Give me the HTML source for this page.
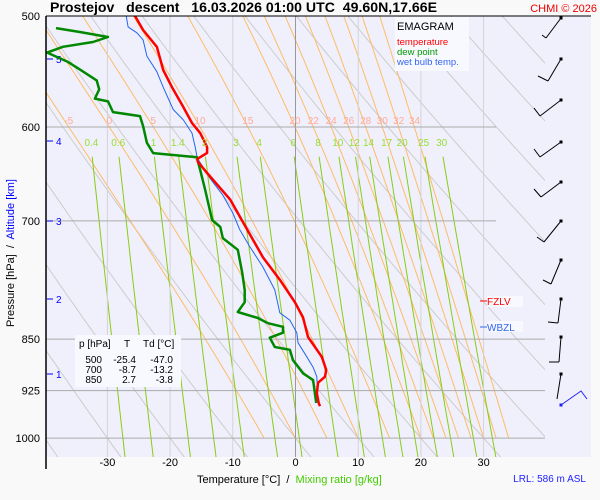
<!DOCTYPE html>
<html><head><meta charset="utf-8"><style>
html,body{margin:0;padding:0;background:#f9f9f9;}
svg{display:block;font-family:"Liberation Sans",sans-serif;}
</style></head><body>
<svg id="chart" width="600" height="500" viewBox="0 0 600 500" xmlns="http://www.w3.org/2000/svg">
<rect x="0" y="0" width="600" height="500" fill="#f9f9f9"/>
<rect x="46" y="16" width="545" height="441" fill="#f0f0fc"/>
<defs><clipPath id="clip"><rect x="46" y="16" width="499" height="441"/></clipPath></defs>
<g id="bg" clip-path="url(#clip)"></g>
<g id="grid"></g>
<g id="series"></g>
<g id="barbs"></g>
<g id="labels"></g>
<text x="50" y="12" font-size="13.5" font-weight="bold" xml:space="preserve" textLength="387" lengthAdjust="spacingAndGlyphs">Prostejov   descent   16.03.2026 01:00 UTC  49.60N,17.66E</text>
<text x="597" y="12" font-size="11" fill="#e00" text-anchor="end">CHMI © 2026</text>
<line x1="46" y1="16" x2="591" y2="16" stroke="#000" stroke-width="1"/>
<line x1="46" y1="16" x2="46" y2="469" stroke="#000" stroke-width="1.5"/>
<rect x="395" y="17" width="74" height="54" fill="#f8f8ff"/>
<text x="397" y="30" font-size="11">EMAGRAM</text>
<text x="397" y="45" font-size="9.5" fill="#f00">temperature</text>
<text x="397" y="55" font-size="9.5" fill="#090">dew point</text>
<text x="397" y="65" font-size="9.5" fill="#36e">wet bulb temp.</text>
<rect x="75" y="335" width="106" height="52" fill="#f8f8ff"/>
<g font-size="10">
<text x="79" y="347">p [hPa]</text><text x="127" y="347" text-anchor="middle">T</text><text x="143" y="347">Td [°C]</text>
<text x="102" y="363" text-anchor="end">500</text><text x="136" y="363" text-anchor="end">-25.4</text><text x="173" y="363" text-anchor="end">-47.0</text>
<text x="102" y="373" text-anchor="end">700</text><text x="136" y="373" text-anchor="end">-8.7</text><text x="173" y="373" text-anchor="end">-13.2</text>
<text x="102" y="383" text-anchor="end">850</text><text x="136" y="383" text-anchor="end">2.7</text><text x="173" y="383" text-anchor="end">-3.8</text>
</g>
<text transform="translate(14,253) rotate(-90)" font-size="11" text-anchor="middle" xml:space="preserve">Pressure [hPa]  /  <tspan fill="#00f">Altitude [km]</tspan></text>
<text x="197" y="483" font-size="11" xml:space="preserve">Temperature [°C]  /  <tspan fill="#4c0">Mixing ratio [g/kg]</tspan></text>
<text x="586" y="482" font-size="10" fill="#22f" text-anchor="end">LRL: 586 m ASL</text>
<rect x="487" y="296" width="36" height="11" fill="#f8f8ff"/>
<line x1="480" y1="301" x2="487" y2="301" stroke="#f00"/>
<text x="487" y="305" font-size="10" fill="#f00">FZLV</text>
<rect x="487" y="321" width="36" height="11" fill="#f8f8ff"/>
<line x1="480" y1="327" x2="487" y2="327" stroke="#36e"/>
<text x="487" y="331" font-size="10" fill="#36e">WBZL</text>
</svg>
<script>
const tempP=[500,511.6,526,546.4,562,580.6,596,606,620,626,632,635,647,676,710,743,771,800,820,847,875,894,904,913,929,944,949];
const tempT=[-25.6,-24.3,-22.1,-21.1,-19.7,-17.9,-16.5,-15.2,-14.1,-14.1,-15.6,-15.6,-14.1,-10.4,-7.7,-5.2,-2.5,-0.1,1.2,2.0,4.2,4.9,4.7,3.6,3.4,3.7,3.9];
const dewP=[510,513.3,517.5,521.8,525.9,531,538.9,545.8,555.8,564,572.6,575.3,585.5,589.3,599.1,615.7,626.2,630.5,631.7,643.9,665.4,699,707,720,734,762,784,800,813,821,828,833,841,848,861,865,880,899,909,929,944];
const dewT=[-38.2,-34.4,-29.9,-32.3,-37.1,-39.6,-36.4,-34.4,-31.7,-31.3,-32.0,-29.9,-29.1,-24.8,-24.3,-23.7,-22.7,-15.7,-15.7,-15.2,-14.4,-13.3,-12.0,-11.6,-9.2,-8.5,-8.1,-8.1,-9.2,-6.0,-4.4,-2.0,-2.0,-4.1,-3.3,-0.9,-0.4,1.2,2.8,3.1,3.3];
const wbP=[500,509,514,520,534,548,562,583,593,606,620,631,632,653,671,691,710,730,755,784,814,824,841,855,875,890,904,944];
const wbT=[-27.0,-26.7,-25.3,-24.3,-23.7,-22.1,-21.1,-19.5,-17.9,-16.5,-16.0,-15.7,-15.6,-13.6,-11.6,-10.0,-8.9,-7.3,-5.2,-3.3,-2.5,-0.9,0.2,0.4,1.8,2.8,3.4,3.6];
const tempTicks=[-30,-20,-10,0,10,20,30];
const pressTicks=[500,600,700,850,925,1000];
const altKm=[5,4,3,2,1];
const altY=[59,141,221,299,374];
const mixRatios=[0.4,0.6,1,1.4,2,3,4,6,8,10,12,14,17,20,25,30];
const thetaW=[-5,0,5,10,15,20,22,24,26,28,30,32,34];
const thetaDry=[-60,-50,-40,-30,-20,-10,0,10,20,30,40,50,60,70,80,90,100,110,120,130,140,150];
const barbTop=[18,59,100,142,182,221,260,299,337,374];
const barbEnd=[[546,38],[548,81],[540,116],[540,157],[541,197],[544,242],[551,284],[558,323],[559,362],[557,399]];
const barbFeather=[[542,35],[538,76],[534,108],[534,149],[534,189],[537,237],[543,280],[548,322],[549,362],[557,399]];

const NS='http://www.w3.org/2000/svg';
const X=t=>295.5+t*6.27;
const Y=p=>16+609*Math.log(p/500);
function mk(tag,attrs,parent){const e=document.createElementNS(NS,tag);for(const k in attrs)e.setAttribute(k,attrs[k]);parent.appendChild(e);return e;}
const bg=document.getElementById('bg'),grid=document.getElementById('grid'),series=document.getElementById('series'),labels=document.getElementById('labels'),barbs=document.getElementById('barbs');
function poly(pts){return pts.map(q=>X(q[1]).toFixed(1)+','+Y(q[0]).toFixed(1)).join(' ');}

thetaDry.forEach(th=>{const pts=[];for(let p=500;p<=1050;p+=10){pts.push([p,(th+273.15)*Math.pow(p/1000,0.2857)-273.15]);}
 const l=mk('polyline',{points:poly(pts),fill:'none',stroke:'#ccc','stroke-width':1},bg);
 
 });
function es(T){return 6.112*Math.exp(17.67*T/(T+243.5));}
thetaW.forEach(tw=>{let T=tw+273.15,p=1000;const pts=[[1000,tw]];
 while(p>500){const dp=-2;const rs=0.622*es(T-273.15)/(p-es(T-273.15));const Lv=2.5e6,Rd=287,cp=1004;
  const dTdp=(Rd*T+Lv*rs)/(p*(cp+Lv*Lv*rs*0.622/(Rd*T*T)));T+=dTdp*dp;p+=dp;pts.push([p,T-273.15]);}
 const l=mk('polyline',{points:poly(pts),fill:'none',stroke:'#fb6','stroke-width':1},bg);
 
 
 let q=pts.find(z=>z[0]<=600)||pts[pts.length-1];
 const t=mk('text',{x:X(q[1]).toFixed(1),y:124,'font-size':10,fill:'#fa9','text-anchor':'middle'},labels);t.textContent=tw;
 
 });
function tw(w,p){const e=w*p/(622+w);const a=Math.log(e/6.112);return 243.5*a/(17.67-a);}
mixRatios.forEach(w=>{const pts=[];for(let p=630;p<=1060;p+=10)pts.push([p,tw(w,p)]);
 const l=mk('polyline',{points:poly(pts),fill:'none',stroke:'#8c1','stroke-width':1},bg);
 
 
 const t=mk('text',{x:X(tw(w,622)).toFixed(1),y:146,'font-size':10,fill:'#9d3','text-anchor':'middle'},labels);t.textContent=w;
 
 });
tempTicks.forEach(t=>{const l=mk('line',{x1:X(t),x2:X(t),y1:16,y2:457,stroke:t===0?'#999':'#d4d4d4','stroke-width':1},grid);
 
 
 const tx=mk('text',{x:X(t),y:466,'font-size':11,'text-anchor':'middle'},grid);tx.textContent=t;
 
 });
pressTicks.forEach(p=>{if(p>500){const l=mk('line',{x1:46,x2:(p<800?496:545),y1:Y(p),y2:Y(p),stroke:'#aaa','stroke-width':1},grid);
 
 }
 const tx=mk('text',{x:40,y:Y(p)+4,'font-size':11,'text-anchor':'end'},grid);tx.textContent=p;
 
 });
altKm.forEach((k,i)=>{const l=mk('line',{x1:47,x2:53,y1:altY[i],y2:altY[i],stroke:'#00f'},grid);
 
 
 const tx=mk('text',{x:56,y:altY[i]+4,'font-size':10,fill:'#00f'},grid);tx.textContent=k;
 
 });
function line(P,T,color,w,name){const pts=P.map((p,i)=>[p,T[i]]);const l=mk('polyline',{points:poly(pts),fill:'none',stroke:color,'stroke-width':w,'stroke-linejoin':'round'},series);
 
 }
line(wbP,wbT,'#2266ee',1,'wet-bulb-line');
line(dewP,dewT,'#080',2.5,'dew-point-line');
line(tempP,tempT,'#f00',2.5,'temperature-line');
barbTop.forEach((y,i)=>{const g=mk('g',{},barbs);
 
 
 const e=barbEnd[i],f=barbFeather[i];
 mk('line',{x1:561,y1:y,x2:e[0],y2:e[1],stroke:'#000'},g);
 mk('line',{x1:e[0],y1:e[1],x2:f[0],y2:f[1],stroke:'#000'},g);
 mk('rect',{x:559.5,y:y-1.5,width:3,height:3,fill:'#000'},g);});
const wb=mk('polyline',{points:'561,405 581,391 587,399',fill:'none',stroke:'#22e'},barbs);


mk('rect',{x:559.5,y:403.5,width:3,height:3,fill:'#22e'},barbs);
</script>
</body></html>
